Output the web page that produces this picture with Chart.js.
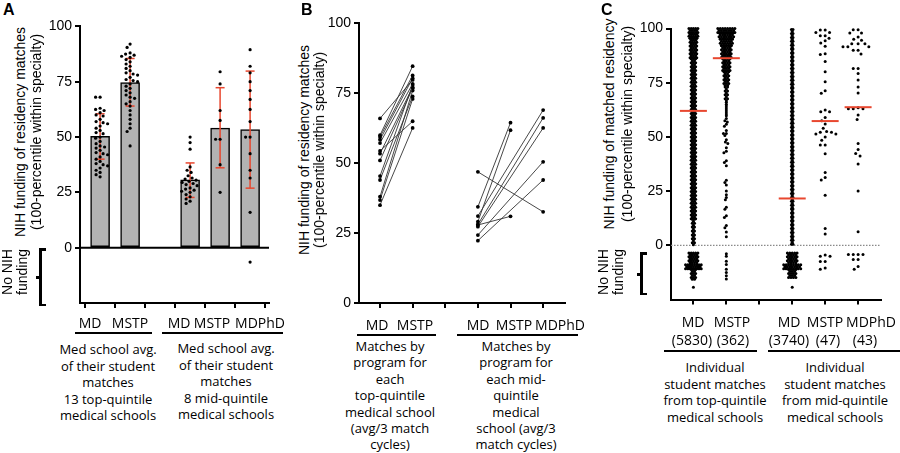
<!DOCTYPE html>
<html>
<head>
<meta charset="utf-8">
<script src="https://cdn.jsdelivr.net/npm/chart.js@4.4.1/dist/chart.umd.min.js"></script>
<style>
  body { margin: 0; background: #fff; }
  #fig { position: relative; width: 900px; height: 453px; overflow: hidden; font-family: 'Liberation Sans', Arial, sans-serif; color: #000; }
  #fig canvas { position: absolute; }
  .t { position: absolute; transform: translate(-50%, -50%); white-space: nowrap; line-height: 1; }
  .lbl { font-family: 'Open Sans', sans-serif; font-size: 14px; }
  .desc { position: absolute; transform: translateX(-50%); white-space: nowrap; font-family: 'Open Sans', sans-serif; font-size: 13px; line-height: 16.6px; text-align: center; }
  .rot { position: absolute; transform: translate(-50%, -50%) rotate(-90deg); white-space: nowrap; font-size: 14px; line-height: 1; }
  .rule { position: absolute; height: 2px; background: #000; }
  .letter { position: absolute; font-weight: bold; font-size: 16px; line-height: 1; }
  .blk { position: absolute; background: #000; }
</style>
</head>
<body>
<div id="fig">
  <canvas id="chartA" width="240" height="300" style="left:40px; top:15px;"></canvas>
  <canvas id="chartB" width="256" height="303" style="left:319px; top:12px;"></canvas>
  <canvas id="chartC" width="265" height="302" style="left:631px; top:13px;"></canvas>

  <div class="letter" style="left:3px; top:2px;">A</div>
  <div class="letter" style="left:301px; top:2px;">B</div>
  <div class="letter" style="left:601px; top:2px;">C</div>

  <!-- y axis titles -->
  <div class="rot" style="left:20px; top:132px;">NIH funding of residency matches</div>
  <div class="rot" style="left:36px; top:132px;">(100-percentile within specialty)</div>
  <div class="rot" style="left:304px; top:150px;">NIH funding of residency matches</div>
  <div class="rot" style="left:319px; top:150px;">(100-percentile within specialty)</div>
  <div class="rot" style="left:609px; top:124px;">NIH funding of matched residency</div>
  <div class="rot" style="left:627px; top:124px;">(100-percentile within specialty)</div>

  <!-- no NIH funding brackets -->
  <div class="rot" style="left:7px; top:272px;">No NIH</div>
  <div class="rot" style="left:22px; top:272px;">funding</div>
  <div class="blk" style="left:39px; top:248px; width:3px; height:58px;"></div>
  <div class="blk" style="left:39px; top:248px; width:7px; height:2.5px;"></div>
  <div class="blk" style="left:39px; top:303.5px; width:7px; height:2.5px;"></div>
  <div class="blk" style="left:36px; top:276px; width:4px; height:2.5px;"></div>
  <div class="rot" style="left:603px; top:272px;">No NIH</div>
  <div class="rot" style="left:618px; top:272px;">funding</div>
  <div class="blk" style="left:640px; top:252px; width:3px; height:43px;"></div>
  <div class="blk" style="left:640px; top:252px; width:7px; height:2.5px;"></div>
  <div class="blk" style="left:640px; top:292.5px; width:7px; height:2.5px;"></div>
  <div class="blk" style="left:637px; top:273px; width:4px; height:2.5px;"></div>

  <!-- panel A group labels -->
  <div class="t lbl" style="left:90px; top:323px;">MD</div>
  <div class="t lbl" style="left:130px; top:323px;">MSTP</div>
  <div class="t lbl" style="left:179px; top:323px;">MD</div>
  <div class="t lbl" style="left:212px; top:323px;">MSTP</div>
  <div class="t lbl" style="left:260px; top:323px;">MDPhD</div>
  <div class="rule" style="left:75px; width:77px; top:332px;"></div>
  <div class="rule" style="left:162px; width:121px; top:332px;"></div>
  <div class="desc" style="left:108px; top:341px;">Med school avg.<br>of their student<br>matches<br>13 top-quintile<br>medical schools</div>
  <div class="desc" style="left:226px; top:340px;">Med school avg.<br>of their student<br>matches<br>8 mid-quintile<br>medical schools</div>

  <!-- panel B group labels -->
  <div class="t lbl" style="left:377px; top:325px;">MD</div>
  <div class="t lbl" style="left:415px; top:325px;">MSTP</div>
  <div class="t lbl" style="left:478px; top:325px;">MD</div>
  <div class="t lbl" style="left:514px; top:325px;">MSTP</div>
  <div class="t lbl" style="left:560px; top:325px;">MDPhD</div>
  <div class="rule" style="left:357px; width:79px; top:334px;"></div>
  <div class="rule" style="left:457px; width:121px; top:334px;"></div>
  <div class="desc" style="left:390px; top:338px; line-height:16.4px;">Matches by<br>program for<br>each<br>top-quintile<br>medical school<br>(avg/3 match<br>cycles)</div>
  <div class="desc" style="left:516px; top:338px; line-height:16.4px;">Matches by<br>program for<br>each mid-<br>quintile<br>medical<br>school (avg/3<br>match cycles)</div>

  <!-- panel C group labels -->
  <div class="t lbl" style="left:693px; top:322px;">MD</div>
  <div class="t lbl" style="left:732px; top:322px;">MSTP</div>
  <div class="t lbl" style="left:692px; top:340px;">(5830)</div>
  <div class="t lbl" style="left:733px; top:340px;">(362)</div>
  <div class="t lbl" style="left:789px; top:322px;">MD</div>
  <div class="t lbl" style="left:825px; top:322px;">MSTP</div>
  <div class="t lbl" style="left:871px; top:322px;">MDPhD</div>
  <div class="t lbl" style="left:789px; top:340px;">(3740)</div>
  <div class="t lbl" style="left:828px; top:340px;">(47)</div>
  <div class="t lbl" style="left:865px; top:340px;">(43)</div>
  <div class="rule" style="left:664px; width:93px; top:350px;"></div>
  <div class="rule" style="left:768px; width:132px; top:350px;"></div>
  <div class="desc" style="left:715px; top:359px;">Individual<br>student matches<br>from top-quintile<br>medical schools</div>
  <div class="desc" style="left:835px; top:359px;">Individual<br>student matches<br>from mid-quintile<br>medical schools</div>
</div>

<script>
// tick values shared by all three panels
const yTicks = [0, 25, 50, 75, 100];
const xSlots = [0, 1, 2, 3, 4, 5];

// Panel A: med school averages (bar = mean, red = SD)
const barPosA = [0, 1, 3, 4, 5];
const barMeanA = [50.3, 74.6, 30.7, 54, 53.4];
const sdLowA = [40, 64, 22.7, 36.1, 26.9];
const sdHighA = [60.5, 85.5, 38.3, 72.3, 79.8];
const topMdA = [68, 68, 63, 62.5, 62, 61, 60, 59.5, 58, 57, 56.5, 56, 55, 54, 53, 52, 51.5, 50, 49.5, 48,
  47, 46, 45.5, 45, 44, 43, 42.5, 42, 41, 40, 39, 38, 37.5, 37, 36, 35, 34, 33, 32];
const topMstpA = [92, 90.5, 88, 87.5, 87, 86.5, 86, 85, 84, 83, 82, 81, 80, 79, 78.5, 78, 77, 76, 75.5,
  75, 74, 73, 72, 71, 70, 69, 68, 67.5, 66, 65, 64, 62, 60, 58, 56, 54, 52.5, 46];
const midMdA = [50, 47.5, 44.5, 36.5, 35, 34, 32.5, 31.5, 31, 30.5, 30, 29.5, 29, 28.5, 28, 27, 26.5,
  26, 25.5, 25, 24, 23, 22, 21, 20];
const midMstpA = [79.5, 74, 62, 57.5, 49, 49, 37.5, 25];
const midMdphdA = [89.5, 82, 79, 75, 71, 67, 62.5, 57, 50, 50, 42.5, 35, 31.5, 16, -6.5];

// Panel B: per-school program averages, paired MD -> other program
const topMdB = [66, 60, 59.4, 58.4, 57.2, 54.4, 53.4, 51, 45.4, 44, 38, 36.8, 35];
const topMstpB = [79.8, 84.7, 81.4, 80.4, 78.4, 65, 77.2, 76.8, 78, 73.9, 76, 73, 62.6];
const midMdToMstpB = [34.4, 29.1, 27.9];
const midMstpB = [64.5, 61.8, 31];
const midMdToPhdB = [46.9, 31.1, 28.1, 27.3, 24.3, 22.3];
const midMdphdB = [32.6, 69, 66.2, 62.6, 50.5, 44];

// Panel C: individual matches. Dense swarms as bands [from, to, dots across]
const topMdBandsC = [[100, 95.5, 5], [95.5, 86, 4], [86, 12, 3], [12, 0, 2],
  [-3.5, -8.5, 5], [-9, -11.2, 8], [-11.2, -16.5, 3]];
const topMdOutC = [-19.4];
const topMstpBandsC = [[100, 98, 8], [98, 95, 7], [95, 92, 6], [92, 86, 5], [86, 80, 4],
  [80, 73, 3], [73, 66, 2], [66, 59.5, 1]];
const topMstpSparseC = [58.5, 57.5, 56.9, 55.8, 54.9, 53, 51.6, 51.6, 50.6, 48.7, 47.6, 46.9, 45, 43.4,
  42.7, 39, 38.2, 36.7, 30, 29, 27.8, 25, 23.3, 22.1, 21, 17.6, 16.6, 13.6, 12.8, 9.1, 8.1, 6.1, 3.9,
  -3.9, -5.1, -7.3, -8.8, -11, -12.5, -14, -15.5];
const midMdColC = [[99.5, 0, 2]];
const midMdNoFundC = [[-3.5, -8.5, 5], [-9, -11.2, 8], [-11.2, -15, 4]];
const midMdOutC = [-19.4];
const midMstpC = [99.3, 99.3, 98.2, 98.2, 96.7, 96.7, 95.5, 94.3, 93.3, 91.8, 88.4, 88, 84.8, 80.1, 75.4,
  71.3, 70.1, 62.4, 61.6, 61.6, 59, 57.5, 56, 54, 52.5, 52.2, 52.2, 51.3, 51.3, 50, 48.5, 46.3, 46.3,
  42.2, 33.6, 31.3, 30.1, 23.1, 7.8, 5.2, -4.5, -5, -5, -7.5, -7.5, -10.5, -11];
const midMdphdC = [99.4, 99.4, 97.9, 97.9, 96.1, 95, 94.6, 93, 93, 93, 91.6, 91.6, 91.6, 90, 90, 88.2,
  81.5, 81.5, 79.2, 76.3, 73, 70.3, 63.5, 63, 63, 63, 60.1, 58, 46.9, 44.2, 42.3, 41.2, 37.5, 25.1, 6.2,
  -4.3, -4.3, -4.3, -4.3, -6.5, -6.5, -9.8, -11];
const medianPosC = [0, 1, 3, 4, 5];
const medianC = [62, 86.3, 21.6, 57.3, 63.7];

const RED = '#e8472f';

// simple beeswarm: push each dot sideways until it no longer overlaps
function swarm(values, center, pxY, pxX, gap) {
  const placed = [];
  return values.map(v => {
    const yp = v * pxY;
    let off = 0;
    for (let k = 0; k < 300; k++) {
      const c = (k % 2 ? -1 : 1) * Math.ceil(k / 2) * 0.5;
      if (placed.every(p => Math.hypot(p[0] - c, p[1] - yp) >= gap)) { off = c; break; }
    }
    placed.push([off, yp]);
    return { x: center + off / pxX, y: v };
  });
}

// dense swarm bands -> rows of packed dots
function bandDots(bands, center, pxX, sp, rowStep) {
  const pts = [];
  bands.forEach(([from, to, n]) => {
    let row = 0;
    for (let v = from; v >= to - 0.001; v -= rowStep, row++) {
      const m = (n > 1 && row % 2) ? n - 1 : n;
      for (let i = 0; i < m; i++) {
        pts.push({ x: center + (i - (m - 1) / 2) * sp / pxX, y: v });
      }
    }
  });
  return pts;
}

function axes(xmin, xmax, ymin, ymax) {
  const grid = { display: true, drawOnChartArea: false, drawTicks: true, tickLength: 5, color: '#000', lineWidth: 2 };
  const border = { display: true, color: '#000', width: 2 };
  return {
    x: {
      type: 'linear', min: xmin, max: xmax, offset: false,
      afterBuildTicks: s => { s.ticks = xSlots.map(v => ({ value: v })); },
      afterFit: s => { s.height = 12; },
      ticks: { display: false },
      grid: grid, border: border
    },
    y: {
      type: 'linear', min: ymin, max: ymax,
      afterBuildTicks: s => { s.ticks = yTicks.map(v => ({ value: v })); },
      afterFit: s => { s.width = 40; },
      ticks: { color: '#000', padding: 3, font: { family: "'Liberation Sans', Arial, sans-serif", size: 14 } },
      grid: grid, border: border
    }
  };
}

function baseOptions(xmin, xmax, ymin, ymax, padRight) {
  return {
    responsive: false,
    animation: false,
    devicePixelRatio: 1,
    layout: { padding: { top: 10, right: padRight, bottom: 0, left: 0 } },
    plugins: { legend: { display: false }, tooltip: { enabled: false } },
    scales: axes(xmin, xmax, ymin, ymax)
  };
}

function dots(data, radius, order) {
  return {
    type: 'scatter', data: data, pointRadius: radius, pointBackgroundColor: '#000',
    pointBorderWidth: 0, showLine: false, clip: false, order: order
  };
}

// ---- Panel A ----
const xMinA = -0.67, xMaxA = 5.63;
const errA = barPosA.map((x, i) => ({
  type: 'scatter', showLine: true, clip: false, order: 2,
  data: [{ x: x, y: sdLowA[i] }, { x: x, y: sdHighA[i] }],
  borderColor: RED, borderWidth: 1.5,
  pointStyle: 'line', pointRadius: 4.5, pointBorderColor: RED, pointBorderWidth: 1.5
}));

new Chart(document.getElementById('chartA'), {
  type: 'bar',
  data: {
    datasets: [
      {
        type: 'bar', order: 5,
        data: barPosA.map((x, i) => ({ x: x, y: barMeanA[i] })),
        backgroundColor: '#b3b3b3', borderColor: '#000', borderWidth: 1.5,
        borderSkipped: false, barThickness: 19
      },
      {
        type: 'scatter', showLine: true, clip: false, order: 4, pointRadius: 0,
        data: [{ x: xMinA, y: 0 }, { x: xMaxA, y: 0 }], borderColor: '#000', borderWidth: 2
      },
      ...errA,
      dots(swarm(topMdA, 0, 2.224, 30, 4.4), 1.6, 1),
      dots(swarm(topMstpA, 1, 2.224, 30, 4.4), 1.6, 1),
      dots(swarm(midMdA, 3, 2.224, 30, 4.4), 1.6, 1),
      dots(swarm(midMstpA, 4, 2.224, 30, 4.4), 1.6, 1),
      dots(swarm(midMdphdA, 5, 2.224, 30, 4.4), 1.6, 1)
    ]
  },
  options: baseOptions(xMinA, xMaxA, -25, 100, 11)
});

// ---- Panel B ----
function pairLine(xa, va, xb, vb) {
  return {
    type: 'scatter', showLine: true, clip: false,
    data: [{ x: xa, y: va }, { x: xb, y: vb }],
    borderColor: '#333', borderWidth: 0.9,
    pointRadius: 1.9, pointBackgroundColor: '#000', pointBorderWidth: 0
  };
}
const pairsB = [];
topMdB.forEach((v, i) => pairsB.push(pairLine(0, v, 1, topMstpB[i])));
midMdToMstpB.forEach((v, i) => pairsB.push(pairLine(3, v, 4, midMstpB[i])));
midMdToPhdB.forEach((v, i) => pairsB.push(pairLine(3, v, 5, midMdphdB[i])));

new Chart(document.getElementById('chartB'), {
  type: 'scatter',
  data: { datasets: pairsB },
  options: baseOptions(-0.644, 5.67, 0, 100, 10)
});

// ---- Panel C ----
const xMinC = -0.68, xMaxC = 5.68;
const pxXC = 33.8, pxYC = 2.24;
new Chart(document.getElementById('chartC'), {
  type: 'scatter',
  data: {
    datasets: [
      {
        type: 'scatter', showLine: true, clip: false, order: 5, pointRadius: 0,
        data: [{ x: xMinC, y: 0 }, { x: xMaxC, y: 0 }],
        borderColor: '#8a8a8a', borderWidth: 1.2, borderDash: [1.5, 1.5]
      },
      dots(bandDots(topMdBandsC, 0, pxXC, 2.3, 0.9), 1.5, 2),
      dots(swarm(topMdOutC, 0, pxYC, pxXC, 4.6), 1.5, 2),
      dots(bandDots(topMstpBandsC, 1, pxXC, 2.5, 0.9), 1.5, 2),
      dots(swarm(topMstpSparseC, 1, pxYC, pxXC, 2.6), 1.5, 2),
      dots(bandDots(midMdColC, 3, pxXC, 1.6, 0.9), 1.5, 2),
      dots(bandDots(midMdNoFundC, 3, pxXC, 2.5, 0.9), 1.5, 2),
      dots(swarm(midMdOutC, 3, pxYC, pxXC, 4.6), 1.5, 2),
      dots(swarm(midMstpC, 4, pxYC, pxXC, 4.8), 1.5, 2),
      dots(swarm(midMdphdC, 5, pxYC, pxXC, 4.8), 1.5, 2),
      {
        type: 'scatter', clip: false, order: 1,
        data: medianPosC.map((x, i) => ({ x: x, y: medianC[i] })),
        pointStyle: 'line', pointRadius: 13.5, pointBorderColor: RED, pointBorderWidth: 2
      }
    ]
  },
  options: baseOptions(xMinC, xMaxC, -25, 100, 10)
});
</script>
</body>
</html>
